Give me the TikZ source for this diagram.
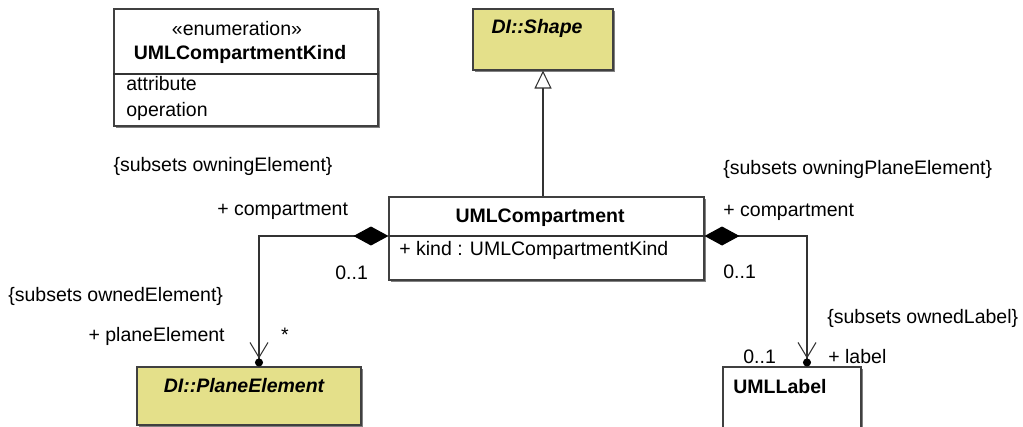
\documentclass[tikz,border=0pt]{standalone}
\usepackage{fontspec}
\setmainfont{Liberation Sans}
\usetikzlibrary{arrows.meta,fit,shadows}
\definecolor{diyellow}{RGB}{228,224,138}
\newcommand\umlfont{\fontsize{11.1}{13}\selectfont}

\begin{document}
\begin{tikzpicture}[x=0.02cm, y=-0.02cm,
    every node/.style={font=\umlfont},
    classbox/.style={draw=black!75, line width=0.6pt, fill=white, inner sep=0pt,
      drop shadow={shadow xshift=1.3pt, shadow yshift=-1.3pt, fill=black!55, opacity=0.9}},
    txt/.style={inner sep=0pt, text height=0.72em, text depth=0pt},
    bold/.style={txt, font=\umlfont\bfseries},
    abstract/.style={txt, font=\umlfont\bfseries\itshape},
    link/.style={draw=black!80, line width=0.6pt},
    owner/.style={link, {Diamond[length=0.7cm, width=0.38cm, color=black]}-{Straight Barb[length=0.3cm, width=0.36cm, sep=0pt] Circle[length=0.16cm, sep=0pt, color=black]}}]
\useasboundingbox (0,0) rectangle (1023,426);

\node[classbox, fit={(114,9) (378,126)}] (kind) {};
\node[classbox, fill=diyellow, fit={(473,9) (613,70)}] (shape) {};
\node[classbox, fit={(389,197) (704,280)}] (comp) {};
\node[classbox, fill=diyellow, fit={(137,367) (361,425)}] (plane) {};
\node[classbox, fit={(723,367) (861,434)}] (label) {};

\draw[link] (kind.west |- 0,74) -- (kind.east |- 0,74);
\draw[link] (comp.west |- 0,236) -- (comp.east |- 0,236);

\node[txt] (stereo) at (237,29) {«enumeration»};
\node[bold] (kindname) at (240,53) {UMLCompartmentKind};
\node[txt, anchor=west] (attr) at (126,84) {attribute};
\node[txt, anchor=west] (oper) at (126,110) {operation};
\node[abstract] (shapename) at (537,27) {DI::Shape};
\node[bold] (compname) at (540,216) {UMLCompartment};
\node[txt, anchor=west] (kindattr) at (399,249) {+ kind : UMLCompartmentKind};
\node[abstract] (planename) at (244,386) {DI::PlaneElement};
\node[bold, anchor=west] (labelname) at (733,387) {UMLLabel};

\coordinate (lbend) at (259,236);
\coordinate (rbend) at (807,236);

\draw[link, -{Triangle[open, length=0.36cm, width=0.34cm]}] (comp.north -| shape.south) -- (shape.south);
\draw[owner] (comp.west |- lbend) -- (lbend) -- (plane.north -| lbend);
\draw[owner] (comp.east |- rbend) -- (rbend) -- (label.north -| rbend);

\node[txt] (owningel) at (223,165) {\{subsets owningElement\}};
\node[txt, anchor=west] (lcomp) at (217,209) {+ compartment};
\node[txt, anchor=west] (lmult) at (335,273) {0..1};
\node[txt, anchor=west] (ownedel) at (8,295) {\{subsets ownedElement\}};
\node[txt, anchor=east] (planerole) at (225,335) {+ planeElement};
\node[inner sep=0pt, anchor=base] (planemult) at (285,341) {*};

\node[txt, anchor=west] (owningpl) at (723,168) {\{subsets owningPlaneElement\}};
\node[txt, anchor=west] (rcomp) at (723,210) {+ compartment};
\node[txt, anchor=west] (rmult) at (723,272) {0..1};
\node[txt, anchor=west] (ownedlb) at (827,317) {\{subsets ownedLabel\}};
\node[txt, anchor=west] (labelmult) at (743,357) {0..1};
\node[txt, anchor=west] (labelrole) at (828,357) {+ label};
\end{tikzpicture}
\end{document}
